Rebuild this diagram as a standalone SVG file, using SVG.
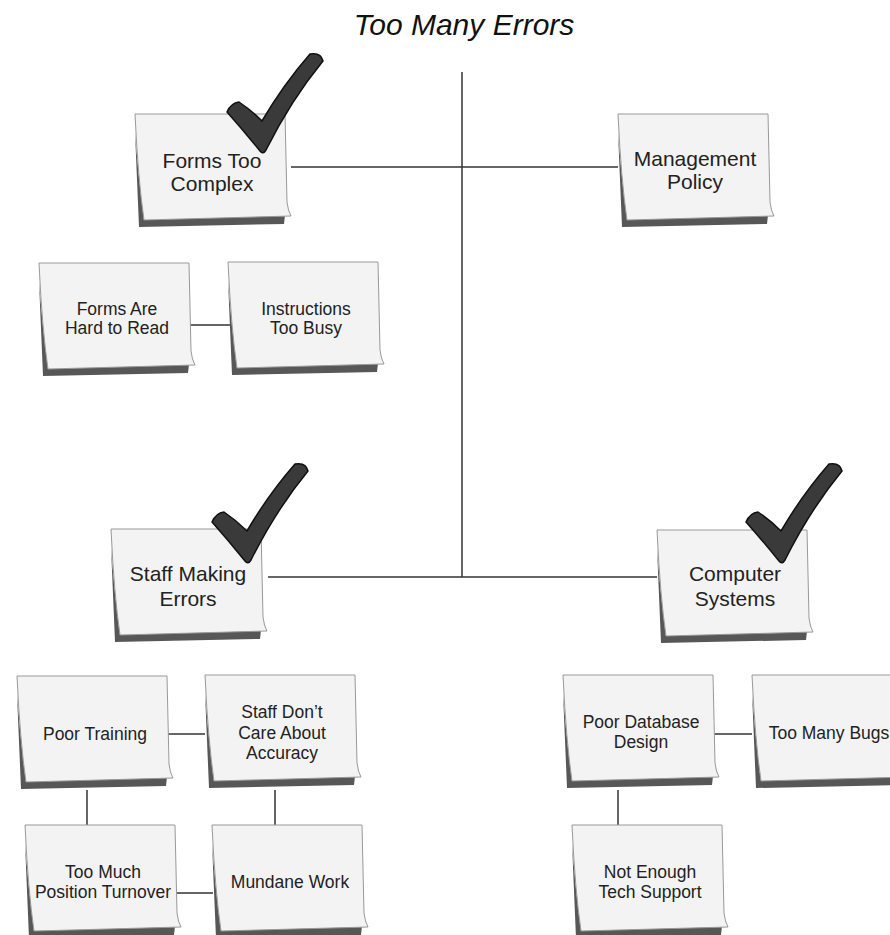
<svg xmlns="http://www.w3.org/2000/svg" xmlns:xlink="http://www.w3.org/1999/xlink" width="890" height="935" viewBox="0 0 890 935">
<style>
.t{font-family:"Liberation Sans",Arial,sans-serif;fill:#222;text-anchor:middle}
.main{font-size:21px}
.sub{font-size:17.5px}
.title{font-family:"Liberation Sans",Arial,sans-serif;font-size:30px;font-style:italic;fill:#111;text-anchor:middle}
.conn{stroke:#333;stroke-width:1.5;fill:none}
.face{fill:#f3f3f3;stroke:#999;stroke-width:1}
.shadow{fill:#575757}
.check{fill:#3a3a3a;stroke:#111;stroke-width:1.5;stroke-linejoin:round}
</style>
<defs>
<g id="note">
<path class="shadow" d="M0,18 L4,113 L149,110 L150,101 L9,106 Q3,60 0,18 Z"/>
<path class="face" d="M0,0 L150,0 L152,88 Q153,97 156,102 L9,106 Q3,65 0,0 Z"/>
</g>
<path id="check" class="check" d="M-36,-38 Q-20,-20 -3,1 Q0,5 3,0 Q28,-50 60,-89 Q58,-98 47,-96 Q20,-65 -1,-29 Q-12,-40 -24,-48 Q-32,-47 -36,-38 Z"/>
</defs>
<rect width="890" height="935" fill="#fff"/>
<text class="title" x="464" y="35">Too Many Errors</text>
<g id="connectors">
<path class="conn" d="M462,72 V577"/>
<path class="conn" d="M291,167 H618"/>
<path class="conn" d="M268,577 H657"/>
<path class="conn" d="M188,325 H230"/>
<path class="conn" d="M166,734 H205"/>
<path class="conn" d="M87,790 V825"/>
<path class="conn" d="M275,790 V825"/>
<path class="conn" d="M170,893 H213"/>
<path class="conn" d="M713,734 H752"/>
<path class="conn" d="M618,790 V825"/>
</g>
<g id="forms-too-complex">
<use xlink:href="#note" href="#note" transform="translate(135,114)"/>
<text class="t main" x="212" y="168">Forms Too</text>
<text class="t main" x="212" y="191">Complex</text>
<use xlink:href="#check" href="#check" transform="translate(263,150)"/>
</g>
<g id="management-policy">
<use xlink:href="#note" href="#note" transform="translate(618,114)"/>
<text class="t main" x="695" y="166">Management</text>
<text class="t main" x="695" y="189">Policy</text>
</g>
<g id="forms-hard-to-read">
<use xlink:href="#note" href="#note" transform="translate(39,263)"/>
<text class="t sub" x="117" y="315">Forms Are</text>
<text class="t sub" x="117" y="334">Hard to Read</text>
</g>
<g id="instructions-too-busy">
<use xlink:href="#note" href="#note" transform="translate(228,262)"/>
<text class="t sub" x="306" y="315">Instructions</text>
<text class="t sub" x="306" y="334">Too Busy</text>
</g>
<g id="staff-making-errors">
<use xlink:href="#note" href="#note" transform="translate(111,529)"/>
<text class="t main" x="188" y="581">Staff Making</text>
<text class="t main" x="188" y="606">Errors</text>
<use xlink:href="#check" href="#check" transform="translate(248,560)"/>
</g>
<g id="computer-systems">
<use xlink:href="#note" href="#note" transform="translate(657,530)"/>
<text class="t main" x="735" y="581">Computer</text>
<text class="t main" x="735" y="606">Systems</text>
<use xlink:href="#check" href="#check" transform="translate(782,560)"/>
</g>
<g id="poor-training">
<use xlink:href="#note" href="#note" transform="translate(17,676)"/>
<text class="t sub" x="95" y="740">Poor Training</text>
</g>
<g id="staff-dont-care">
<use xlink:href="#note" href="#note" transform="translate(205,675)"/>
<text class="t sub" x="282" y="718">Staff Don’t</text>
<text class="t sub" x="282" y="739">Care About</text>
<text class="t sub" x="282" y="759">Accuracy</text>
</g>
<g id="position-turnover">
<use xlink:href="#note" href="#note" transform="translate(25,825)"/>
<text class="t sub" x="103" y="878">Too Much</text>
<text class="t sub" x="103" y="898">Position Turnover</text>
</g>
<g id="mundane-work">
<use xlink:href="#note" href="#note" transform="translate(212,825)"/>
<text class="t sub" x="290" y="888">Mundane Work</text>
</g>
<g id="poor-database-design">
<use xlink:href="#note" href="#note" transform="translate(563,675)"/>
<text class="t sub" x="641" y="728">Poor Database</text>
<text class="t sub" x="641" y="748">Design</text>
</g>
<g id="too-many-bugs">
<use xlink:href="#note" href="#note" transform="translate(752,675)"/>
<text class="t sub" x="829" y="739">Too Many Bugs</text>
</g>
<g id="not-enough-tech-support">
<use xlink:href="#note" href="#note" transform="translate(572,825)"/>
<text class="t sub" x="650" y="878">Not Enough</text>
<text class="t sub" x="650" y="898">Tech Support</text>
</g>
</svg>
